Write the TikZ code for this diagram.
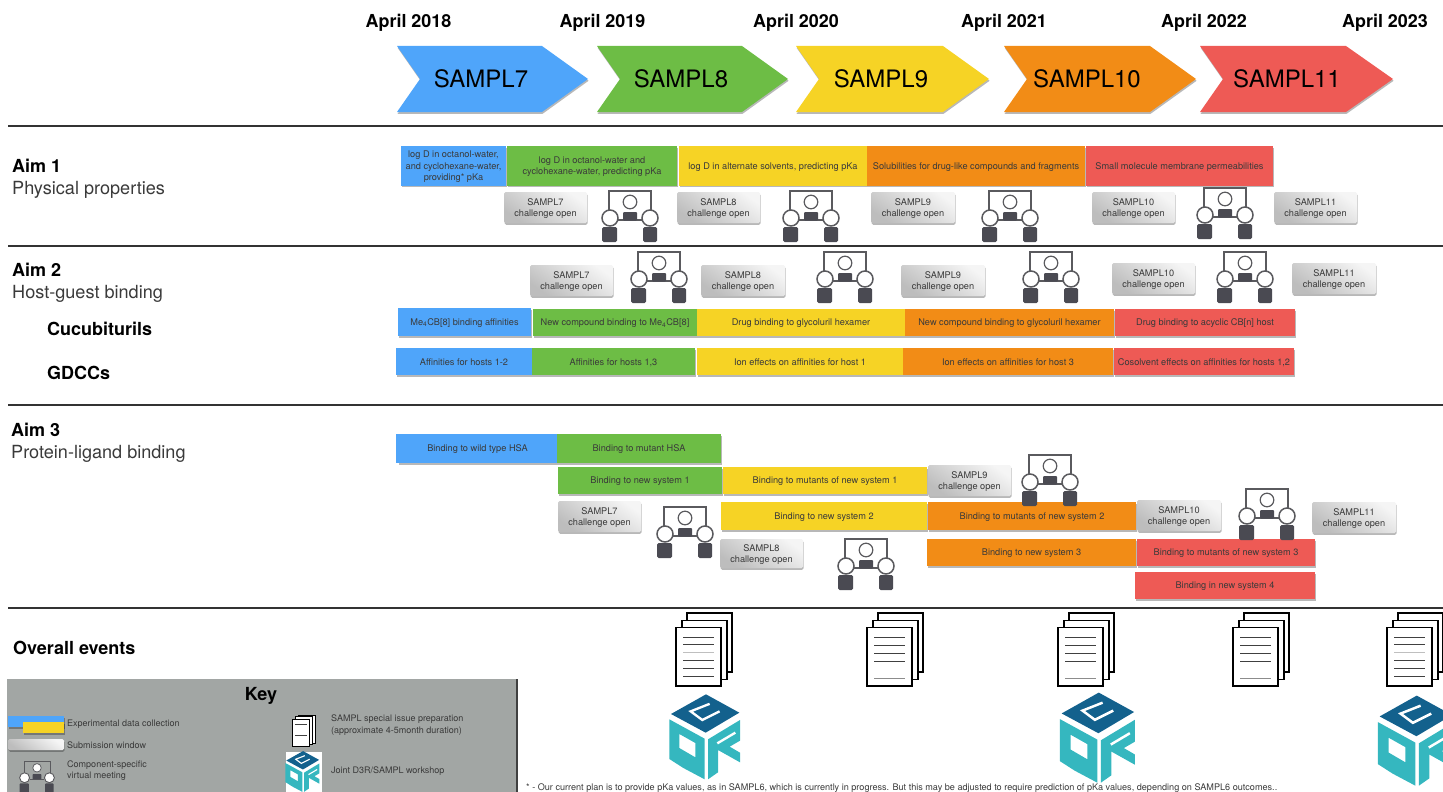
\documentclass[tikz,border=0pt]{standalone}
\usepackage{fontspec}
\setmainfont{TeX Gyre Heros}
\usetikzlibrary{shadows}
\definecolor{cblue}{HTML}{4FA5FA}
\definecolor{cgreen}{HTML}{6DBD45}
\definecolor{cyellow}{HTML}{F6D325}
\definecolor{corange}{HTML}{F28C16}
\definecolor{cred}{HTML}{EE5A55}
\definecolor{ink}{HTML}{3A3A3A}
\definecolor{icon}{HTML}{4A4A52}
\definecolor{iconline}{HTML}{5A5A5E}
\definecolor{keygray}{HTML}{A2A6A4}
\definecolor{logodark}{HTML}{13618D}
\definecolor{logoteal}{HTML}{35B7BF}
\tikzset{
  softshadow/.style={drop shadow={shadow xshift=0.6pt,shadow yshift=-1.8pt,fill=black,opacity=.28}},
  bartext/.style={inner sep=0pt,outer sep=0pt,align=center,text=ink,font=\fontsize{9.2}{11.2}\selectfont,yshift=-1pt},
  barbox/.style={inner sep=0pt,outer sep=0pt,softshadow},
  subbox/.style={inner sep=0pt,outer sep=0pt,rounded corners=1.5pt,softshadow,
     top color=white!96!black,bottom color=white!74!black,shading angle=-35},
  chev/.style={draw=none,softshadow},
  chevtext/.style={font=\fontsize{24}{26}\selectfont,text=black,inner sep=0pt},
  datetext/.style={font=\fontsize{17.9}{20}\selectfont\bfseries,text=black,inner sep=0pt},
  boldhead/.style={font=\fontsize{18}{20}\selectfont\bfseries,text=black,inner sep=0pt,anchor=west},
  subhead/.style={font=\fontsize{18.1}{20}\selectfont,text=ink,inner sep=0pt,anchor=west},
  keytext/.style={font=\fontsize{9}{11.3}\selectfont,text=ink,inner sep=0pt,anchor=west,align=left},
  rule/.style={draw=black!80,line width=1.4pt},
  page/.style={draw=black,fill=white,line width=1.15pt},
  doclineA/.style={draw=black!75,line width=1pt},
  doclineB/.style={draw=black!25,line width=1pt},
  doclineC/.style={draw=black!45,line width=1pt},
}
% name, x0, y0, x1, y1, colour, text
\newcommand{\tlbar}[7]{\node[barbox,fill=#6,minimum width={(#4-#2)*1pt},minimum height={(#5-#3)*1pt},label={[bartext,name=#1t]center:{#7}}] (#1) at ({(#2+#4)/2},{(#3+#5)/2}) {};}
% name, SAMPL number, x0, y0, x1, y1
\newcommand{\chal}[6]{\node[subbox,minimum width={(#5-#3)*1pt},minimum height={(#6-#4)*1pt},label={[bartext,name=#1t]center:{SAMPL#2\\challenge open}}] (#1) at ({(#3+#5)/2},{(#4+#6)/2}) {};}
% name, x-left, notch, shoulder, tip, colour, label centre, label
\newcommand{\chevron}[8]{\path[chev,fill=#6] (#2,46) -- (#4,46) -- (#5,79) -- (#4,112) -- (#2,112) -- (#3,79) -- cycle;
  \node[chevtext] (#1) at (#7,79) {#8};}
% cx, top, scale
\newcommand{\meet}[3]{\begin{scope}[shift={(#1,#2)},x=#3pt,y=-#3pt]
  \draw[iconline,line width={#3*1.5pt}] (-21,27) -- (-21,0) -- (21,0) -- (21,27) (-12,29) -- (12,29);
  \draw[iconline,fill=white,line width={#3*1.2pt}] (0,11) circle [radius={#3*6.8pt}];
  \fill[icon,rounded corners={#3*1pt}] (-7,21) rectangle (7,29.5);
  \draw[iconline,fill=white,line width={#3*1.5pt}] (-20,27) circle [radius={#3*8pt}];
  \draw[iconline,fill=white,line width={#3*1.5pt}] (20,27) circle [radius={#3*8pt}];
  \fill[icon,rounded corners={#3*1.5pt}] (-28,36) rectangle (-13,51);
  \fill[icon,rounded corners={#3*1.5pt}] (13,36) rectangle (27,51);
\end{scope}}
\newcommand{\docsbase}[1]{%
  \draw[page] (#1+11,613) rectangle (#1+56,672);
  \draw[page] (#1+6,620.5) rectangle (#1+51,679.5);
  \draw[page] (#1,627.5) rectangle (#1+45,686);}
\newcommand{\docsA}[1]{\docsbase{#1}
  \draw[doclineA] (#1+7,637) -- (#1+38,637) (#1+7,644.5) -- (#1+38,644.5) (#1+7,660.5) -- (#1+38,660.5) (#1+7,668.5) -- (#1+38,668.5) (#1+7,676.5) -- (#1+38,676.5);
  \draw[doclineB] (#1+7,652.5) -- (#1+38,652.5);}
\newcommand{\docsB}[1]{\docsbase{#1}
  \draw[doclineA] (#1+7,637) -- (#1+38,637) (#1+7,645) -- (#1+38,645) (#1+7,653) -- (#1+38,653) (#1+7,661) -- (#1+38,661);
  \draw[doclineC] (#1+7,678) -- (#1+38,678);}
% origin x, origin y, unit
\newcommand{\dlogo}[3]{\begin{scope}[shift={(#1,#2)},x=#3pt,y=-#3pt]
  \fill[logodark] (138,13) -- (238,68) -- (137,128) -- (33,72) -- cycle;
  \draw[white,line width={#3*7pt},line join=miter] (149,41.5) -- (92,64) -- (127,90) -- (179,64);
  \fill[logoteal,even odd rule] (28,88) -- (134,146) -- (134,268) -- (70,234) -- (28,207) -- cycle
     (58,132) -- (106,159) -- (106,202) -- (58,174) -- cycle;
  \fill[logoteal] (144,148) -- (240,90) -- (240,152) -- (209,170) -- (240,188) -- (240,217) -- (174,180) -- (174,247) -- (144,268) -- cycle;
  \draw[white,line width={#3*7pt}] (172,160) -- (226,128);
\end{scope}}
\begin{document}
\begin{tikzpicture}[x=1pt,y=-1pt]
\useasboundingbox (0,0) rectangle (1443,792);
% dates
\node[datetext] (d18) at (408.5,23) {April 2018};
\node[datetext] (d19) at (602.5,23) {April 2019};
\node[datetext] (d20) at (796,23) {April 2020};
\node[datetext] (d21) at (1004,23) {April 2021};
\node[datetext] (d22) at (1204,23) {April 2022};
\node[datetext] (d23) at (1385,23) {April 2023};
% chevrons
\chevron{ch7}{397}{420}{542}{588}{cblue}{481}{SAMPL7}
\chevron{ch8}{597}{620}{742}{788}{cgreen}{681}{SAMPL8}
\chevron{ch9}{796}{819}{943}{989}{cyellow}{881}{SAMPL9}
\chevron{ch10}{1004}{1027}{1150}{1196}{corange}{1087}{SAMPL10}
\chevron{ch11}{1200}{1223}{1346}{1393}{cred}{1287}{SAMPL11}
% rules
\draw[rule] (8,126) -- (1443,126);
\draw[rule] (8,246) -- (1443,246);
\draw[rule] (8,405) -- (1443,405);
\draw[rule] (8,608) -- (1443,608);
% headings
\node[boldhead] (aim1) at (12,166) {Aim 1};
\node[subhead] (aim1s) at (12,190) {Physical properties};
\node[boldhead] (aim2) at (12,270) {Aim 2};
\node[subhead] (aim2s) at (12,294) {Host-guest binding};
\node[boldhead] (cuc) at (47,329) {Cucubiturils};
\node[boldhead] (gdc) at (47,373) {GDCCs};
\node[boldhead] (aim3) at (11,430) {Aim 3};
\node[subhead] (aim3s) at (11,454) {Protein-ligand binding};
\node[boldhead] (over) at (13,648) {Overall events};
% Aim 1
\tlbar{a1}{401}{146}{506}{185.5}{cblue}{log D in octanol-water,\\and cyclohexane-water,\\providing* pKa}
\tlbar{a2}{507}{146}{677}{185.5}{cgreen}{log D in octanol-water and\\cyclohexane-water, predicting pKa}
\tlbar{a3}{679}{146}{867}{185.5}{cyellow}{log D in alternate solvents, predicting pKa}
\tlbar{a4}{867}{146}{1085}{185.5}{corange}{Solubilities for drug-like compounds and fragments}
\tlbar{a5}{1086}{146}{1273}{185.5}{cred}{Small molecule membrane permeabilities}
\chal{ac7}{7}{504}{192}{587}{223}
\chal{ac8}{8}{677}{192}{760}{223}
\chal{ac9}{9}{871}{192}{955}{223}
\chal{ac10}{10}{1092}{192}{1175}{223}
\chal{ac11}{11}{1274}{192}{1357}{223}
\meet{630}{191}{1}
\meet{811}{191}{1}
\meet{1010}{191}{1}
\meet{1225}{188}{1}
% Aim 2
\chal{bc7}{7}{530}{265}{613}{296}
\chal{bc8}{8}{701}{265}{785}{296}
\chal{bc9}{9}{901}{265}{985}{296}
\chal{bc10}{10}{1112}{263}{1195}{294}
\chal{bc11}{11}{1292}{263}{1376}{294}
\meet{659}{252}{1}
\meet{845}{252}{1}
\meet{1051}{252}{1}
\meet{1245}{252}{1}
\tlbar{b1}{398}{308}{531}{336}{cblue}{Me\textsubscript{4}CB[8] binding affinities}
\tlbar{b2}{533}{309}{697}{336}{cgreen}{New compound binding to Me\textsubscript{4}CB[8]}
\tlbar{b3}{697}{309}{905}{336}{cyellow}{Drug binding to glycoluril hexamer}
\tlbar{b4}{905}{309}{1114}{336}{corange}{New compound binding to glycoluril hexamer}
\tlbar{b5}{1115}{309}{1295}{336}{cred}{Drug binding to acyclic CB[n] host}
\tlbar{g1}{396}{348}{532}{375}{cblue}{Affinities for hosts 1-2}
\tlbar{g2}{532}{348}{695}{375}{cgreen}{Affinities for hosts 1,3}
\tlbar{g3}{697}{348}{903}{375}{cyellow}{Ion effects on affinities for host 1}
\tlbar{g4}{903}{348}{1113}{375}{corange}{Ion effects on affinities for host 3}
\tlbar{g5}{1114}{348}{1294}{375}{cred}{Cosolvent effects on affinities for hosts 1,2}
% Aim 3
\tlbar{p1}{398}{434}{557}{463}{cblue}{Binding to wild type HSA}
\tlbar{p2}{557}{434}{721}{463}{cgreen}{Binding to mutant HSA}
\fill[cblue] (396,434) rectangle (399,463);
\tlbar{p3}{558}{467}{722}{494}{cgreen}{Binding to new system 1}
\tlbar{p4}{723}{467}{927}{494}{cyellow}{Binding to mutants of new system 1}
\chal{pc9}{9}{928}{465}{1011}{496}
\chal{pc7}{7}{558}{501}{641}{532}
\tlbar{p5}{721}{502}{927}{530}{cyellow}{Binding to new system 2}
\tlbar{p6}{928}{502}{1136}{530}{corange}{Binding to mutants of new system 2}
\chal{pc10}{10}{1137}{500}{1221}{531}
\chal{pc11}{11}{1312}{502}{1396}{533}
\chal{pc8}{8}{720}{539}{803}{568}
\tlbar{p7}{927}{539}{1136}{566}{corange}{Binding to new system 3}
\tlbar{p8}{1137}{539}{1315}{566}{cred}{Binding to mutants of new system 3}
\tlbar{p9}{1135}{572}{1315}{599}{cred}{Binding in new system 4}
\meet{1050}{455}{1}
\meet{685}{507}{1}
\meet{866}{539}{1}
\meet{1267}{489}{1}
% documents
\docsA{676}
\docsB{867}
\docsB{1058}
\docsB{1233}
\docsA{1387}
% logos
\dlogo{660}{690}{0.3333}
\dlogo{1050}{688}{0.3533}
\dlogo{1368}{691}{0.3533}
% key
\fill[keygray] (7,679) rectangle (517,792);
\draw[black!75,line width=1.2pt] (517,679) -- (517,792);
\node[font=\fontsize{18}{20}\selectfont\bfseries,text=black,inner sep=0pt] (keyt) at (261,695.5) {Key};
\tlbar{k1}{8}{716}{64}{727}{cblue}{}
\tlbar{k2}{23}{722}{64}{733}{cyellow}{}
\node[subbox,minimum width=56pt,minimum height=11pt] (k3) at (36,744.5) {};
\node[keytext] (kt1) at (67,724.5) {Experimental data collection};
\node[keytext] (kt2) at (67,745) {Submission window};
\node[keytext] (kt3) at (67,770.5) {Component-specific\\virtual meeting};
\meet{37}{761}{0.62}
\begin{scope}[shift={(292,715)},x=0.56pt,y=-0.56pt]
  \draw[page,line width=0.8pt] (11,0) rectangle (42,50);
  \draw[page,line width=0.8pt] (6,3) rectangle (37,53);
  \draw[page,line width=0.8pt] (0,7) rectangle (31,56);
  \draw[doclineA] (5,17) -- (26,17) (5,36) -- (26,36);
\end{scope}
\node[keytext] (kt4) at (331,725) {SAMPL special issue preparation\\(approximate 4-5month duration)};
\fill[white] (286,752) rectangle (322,792);
\dlogo{281}{749}{0.16}
\node[keytext] (kt5) at (331,771.5) {Joint D3R/SAMPL workshop};
\node[font=\fontsize{9.1}{10}\selectfont,text=ink,inner sep=0pt,anchor=west] (foot) at (526,788.5) {* - Our current plan is to provide pKa values, as in SAMPL6, which is currently in progress. But this may be adjusted to require prediction of pKa values, depending on SAMPL6 outcomes..};
\end{tikzpicture}
\end{document}
